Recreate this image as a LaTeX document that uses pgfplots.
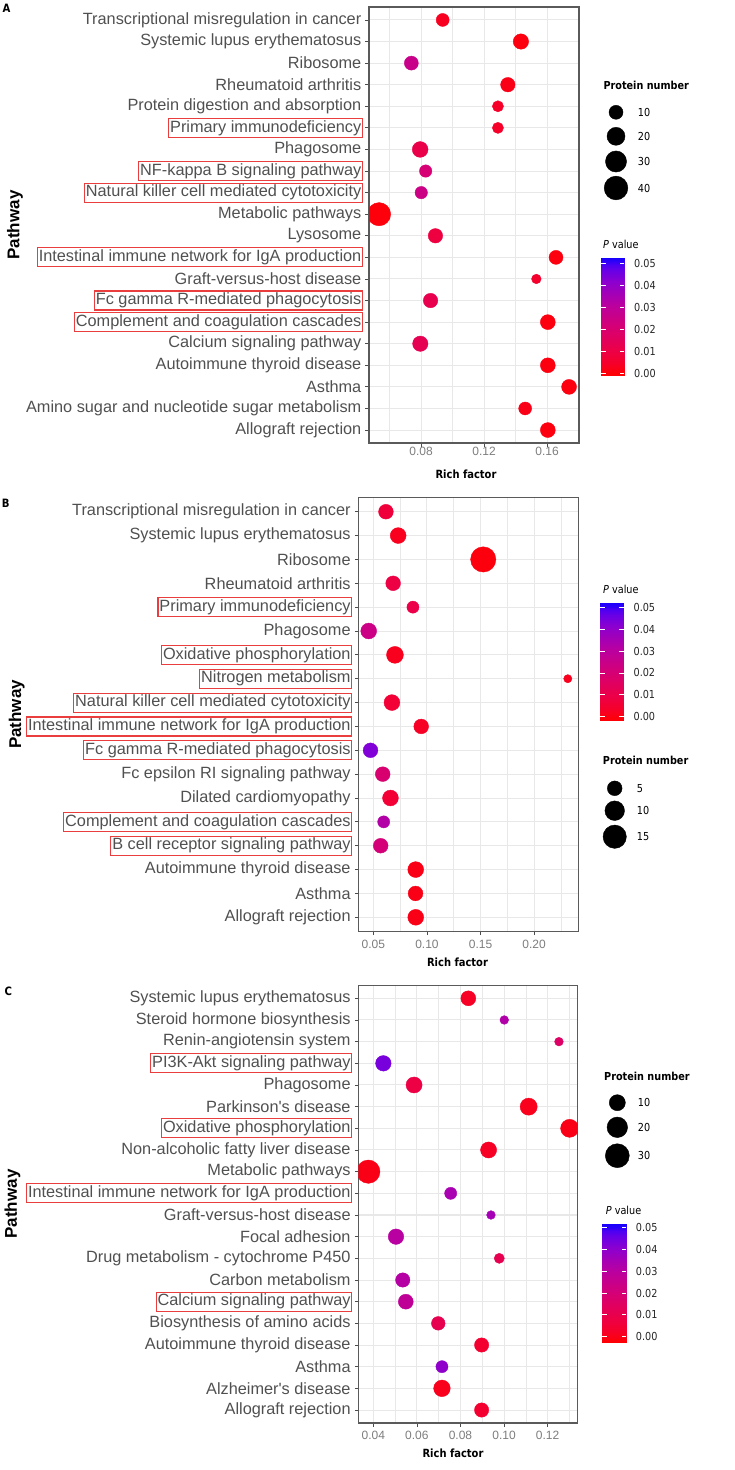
\documentclass[border=0pt]{standalone}
\usepackage{fontspec}
\setmainfont{Liberation Sans}
\newfontfamily\labf{Liberation Sans}
\newfontfamily\tah{DejaVu Sans}[FakeStretch=0.88]
\usepackage{pgfplots}
\usepackage{pgfplotstable}
\pgfplotsset{compat=1.18}
\definecolor{boxred}{RGB}{234,62,62}
\definecolor{gridc}{RGB}{232,232,232}
\definecolor{framec}{RGB}{90,90,90}
\definecolor{labc}{RGB}{80,80,80}
\definecolor{tickc}{RGB}{125,125,125}
\tikzset{hlbox/.style={draw=boxred, line width=1.15pt, inner xsep=0pt, inner ysep=1pt, outer sep=0pt, anchor=east, xshift=-6.4pt, font=\labf\fontsize{16.3}{17}\selectfont}}
\newcommand\hlat[3]{\node[hlbox] at (axis cs:#1,#2) {\kern2.2pt\strut\phantom{#3}\kern0.6pt};}
\pgfplotsset{colormap={blk}{color=(black) color=(black)}}
\pgfplotsset{colormap={ggrb}{rgb255(0)=(255,0,0) rgb255(2)=(246,0,42) rgb255(4)=(237,0,68) rgb255(8)=(215,0,114) rgb255(12)=(186,0,159) rgb255(16)=(141,0,206) rgb255(18)=(104,0,230) rgb255(19)=(75,0,243) rgb255(20)=(0,0,255)}}
\pgfplotsset{
 nfmt/.style={/pgf/number format/fixed, /pgf/number format/fixed zerofill, /pgf/number format/precision=2, /pgf/number format/assume math mode=true},
 dotpanel/.style={
  scale only axis, anchor=north west, clip marker paths=true,
  axis line style={draw=framec, line width=1.2pt},
  grid=both,
  major grid style={draw=gridc, line width=1pt},
  minor grid style={draw=gridc, line width=0.6pt},
  tick pos=left, tick align=outside,
  major tick length=3.5pt, minor tick length=0pt,
  tick style={draw=black!70, line width=0.8pt},
  ymin=0.4,
  yticklabel style={font=\labf\fontsize{16.3}{17}\selectfont, text=labc, inner sep=0pt, xshift=-4pt},
  xticklabel style={font=\labf\fontsize{12}{14}\selectfont, text=tickc, inner sep=0pt, /pgfplots/nfmt},
  scaled x ticks=false,
  colormap name=ggrb,
 },
 cbar/.style={scale only axis, anchor=south west, xmin=0, xmax=1, axis on top,
  axis line style={draw=none}, xtick=\empty, ytick={0,0.01,0.02,0.03,0.04,0.05},
  ytick pos=both, yticklabel pos=right, tick align=inside, major tick length=4.5pt,
  ytick style={draw=white, line width=0.8pt},
  yticklabel style={font=\tah\fontsize{11}{13}\selectfont, text=black!85, anchor=west, inner sep=0pt, xshift=9.7pt, /pgfplots/nfmt},
  scaled y ticks=false, colormap name=ggrb},
 bubbles/.style n args={2}{scatter, only marks, mark=*,
  scatter/use mapped color={draw=mapped color, fill=mapped color},
  visualization depends on={(#1+#2*sqrt(\thisrow{n}))/2 \as \prad},
  scatter/@pre marker code/.append style={/tikz/mark size=\prad}},
}
% Panel A: y (row, 20 = top), x (rich factor), n (protein number), p (P value)
\pgfplotstableread{
y x n p
20 0.0937 8 0.003
19 0.1434 13 0.001
18 0.0738 10 0.026
17 0.1351 11 0.002
16 0.1288 5 0.0045
15 0.1288 5 0.0045
14 0.0794 14 0.011
13 0.0829 7 0.021
12 0.0801 7 0.025
11 0.0533 38 0.0005
10 0.0891 11 0.009
9 0.1657 10 0.001
8 0.1532 3 0.005
7 0.0860 11 0.012
6 0.1605 12 0.001
5 0.0795 13 0.013
4 0.1605 12 0.001
3 0.1740 12 0.001
2 0.1461 8 0.002
1 0.1605 12 0.001
}\tabA
\pgfplotstableread{
y x n p
18 0.0617 5 0.007
17 0.0731 6 0.002
16 0.1525 18 0.000
15 0.0684 5 0.009
14 0.0869 3 0.010
13 0.0456 6 0.024
12 0.0701 7 0.002
11 0.2314 1 0.002
10 0.0673 6 0.006
9 0.0946 5 0.003
8 0.0473 5 0.043
7 0.0587 5 0.019
6 0.0659 6 0.006
5 0.0596 3 0.032
4 0.0568 5 0.021
3 0.0895 6 0.001
2 0.0893 5 0.001
1 0.0895 6 0.001
}\tabB
\pgfplotstableread{
y x n p
20 0.0836 8 0.002
19 0.1001 1 0.032
18 0.1252 1 0.016
17 0.0446 9 0.044
16 0.0587 10 0.008
15 0.1113 12 0.001
14 0.1301 14 0.000
13 0.0929 10 0.002
12 0.0377 28 0.000
11 0.0755 4 0.034
10 0.0940 1 0.035
9 0.0504 9 0.030
8 0.0978 2 0.011
7 0.0535 7 0.031
6 0.0549 8 0.028
5 0.0698 6 0.011
4 0.0897 7 0.004
3 0.0715 4 0.040
2 0.0715 11 0.001
1 0.0897 7 0.004
}\tabC
% size legends, positions in page px
\pgfplotstableread{
x y n
616 -112.3 10
616 -136.3 20
616 -161.5 30
616 -188 40
}\legA
\pgfplotstableread{
x y n
614.7 -788.3 5
614.7 -810.7 10
614.7 -836.7 15
}\legB
\pgfplotstableread{
x y n
617.3 -1102.7 10
617.3 -1127.3 20
617.3 -1155.7 30
}\legC
% colour-bar strips (triangles)
\pgfplotstableread{
x y
0 -0.003
1 -0.003
1 0
0 -0.003
1 0
0 0
0 0
1 0
1 0.005
0 0
1 0.005
0 0.005
0 0.005
1 0.005
1 0.01
0 0.005
1 0.01
0 0.01
0 0.01
1 0.01
1 0.015
0 0.01
1 0.015
0 0.015
0 0.015
1 0.015
1 0.02
0 0.015
1 0.02
0 0.02
0 0.02
1 0.02
1 0.025
0 0.02
1 0.025
0 0.025
0 0.025
1 0.025
1 0.03
0 0.025
1 0.03
0 0.03
0 0.03
1 0.03
1 0.035
0 0.03
1 0.035
0 0.035
0 0.035
1 0.035
1 0.04
0 0.035
1 0.04
0 0.04
0 0.04
1 0.04
1 0.045
0 0.04
1 0.045
0 0.045
0 0.045
1 0.045
1 0.05
0 0.045
1 0.05
0 0.05
0 0.05
1 0.05
1 0.054
0 0.05
1 0.054
0 0.054
}\cbtab
\begin{document}
\begin{tikzpicture}
\useasboundingbox (0,0) rectangle (734pt,-1470pt);
% ---------------- Panel A
\begin{axis}[dotpanel, at={(369pt,-7pt)}, width=210pt, height=436pt,
 xmin=0.0469, xmax=0.1803, ymax=20.6,
 xtick={0.08,0.12,0.16}, minor xtick={0.06,0.10,0.14,0.18},
 ytick={1,...,20},
 yticklabels={Allograft rejection, Amino sugar and nucleotide sugar metabolism, Asthma, Autoimmune thyroid disease, Calcium signaling pathway, Complement and coagulation cascades, Fc gamma R-mediated phagocytosis, Graft-versus-host disease, Intestinal immune network for IgA production, Lysosome, Metabolic pathways, Natural killer cell mediated cytotoxicity, NF-kappa B signaling pathway, Phagosome, Primary immunodeficiency, Protein digestion and absorption, Rheumatoid arthritis, Ribosome, Systemic lupus erythematosus, Transcriptional misregulation in cancer},
 point meta min=-0.0009, point meta max=0.0525,
 after end axis/.code={
  \hlat{0.0469}{6}{Complement and coagulation cascades}
  \hlat{0.0469}{7}{Fc gamma R-mediated phagocytosis}
  \hlat{0.0469}{9}{Intestinal immune network for IgA production}
  \hlat{0.0469}{12}{Natural killer cell mediated cytotoxicity}
  \hlat{0.0469}{13}{NF-kappa B signaling pathway}
  \hlat{0.0469}{15}{Primary immunodeficiency}}]
\addplot[bubbles={4.3}{3.07}, point meta=explicit] table[x=x,y=y,meta=p] {\tabA};
\end{axis}
\begin{axis}[cbar, at={(601pt,-375pt)}, width=23.3pt, height=116.7pt, ymin=-0.0009, ymax=0.0525, point meta min=-0.0009, point meta max=0.0525]
\addplot[patch, shader=interp, point meta=y] table {\cbtab};
\end{axis}
% ---------------- Panel B
\begin{axis}[dotpanel, at={(358.3pt,-497.4pt)}, width=220pt, height=434.2pt,
 xmin=0.0359, xmax=0.2412, ymax=18.6,
 xtick={0.05,0.10,0.15,0.20}, minor xtick={0.075,0.125,0.175,0.225},
 ytick={1,...,18},
 xticklabel style={yshift=-4.5pt},
 yticklabels={Allograft rejection, Asthma, Autoimmune thyroid disease, B cell receptor signaling pathway, Complement and coagulation cascades, Dilated cardiomyopathy, Fc epsilon RI signaling pathway, Fc gamma R-mediated phagocytosis, Intestinal immune network for IgA production, Natural killer cell mediated cytotoxicity, Nitrogen metabolism, Oxidative phosphorylation, Phagosome, Primary immunodeficiency, Rheumatoid arthritis, Ribosome, Systemic lupus erythematosus, Transcriptional misregulation in cancer},
 point meta min=-0.0018, point meta max=0.0518,
 after end axis/.code={
  \hlat{0.0359}{4}{B cell receptor signaling pathway}
  \hlat{0.0359}{5}{Complement and coagulation cascades}
  \hlat{0.0359}{8}{Fc gamma R-mediated phagocytosis}
  \hlat{0.0359}{9}{Intestinal immune network for IgA production}
  \hlat{0.0359}{10}{Natural killer cell mediated cytotoxicity}
  \hlat{0.0359}{11}{Nitrogen metabolism}
  \hlat{0.0359}{12}{Oxidative phosphorylation}
  \hlat{0.0359}{14}{Primary immunodeficiency}}]
\addplot[bubbles={3}{5.25}, point meta=explicit] table[x=x,y=y,meta=p] {\tabB};
\end{axis}
\begin{axis}[cbar, at={(600pt,-720.7pt)}, width=23.7pt, height=117.4pt, ymin=-0.0018, ymax=0.0518, point meta min=-0.0018, point meta max=0.0518]
\addplot[patch, shader=interp, point meta=y] table {\cbtab};
\end{axis}
% ---------------- Panel C
\begin{axis}[dotpanel, at={(358.3pt,-985.3pt)}, width=219.4pt, height=437.7pt,
 xmin=0.0331, xmax=0.1338, ymax=20.6,
 xtick={0.04,0.06,0.08,0.10,0.12}, minor xtick={0.05,0.07,0.09,0.11,0.13},
 ytick={1,...,20},
 xticklabel style={yshift=-4.5pt},
 yticklabels={Allograft rejection, Alzheimer's disease, Asthma, Autoimmune thyroid disease, Biosynthesis of amino acids, Calcium signaling pathway, Carbon metabolism, Drug metabolism - cytochrome P450, Focal adhesion, Graft-versus-host disease, Intestinal immune network for IgA production, Metabolic pathways, Non-alcoholic fatty liver disease, Oxidative phosphorylation, Parkinson's disease, Phagosome, PI3K-Akt signaling pathway, Renin-angiotensin system, Steroid hormone biosynthesis, Systemic lupus erythematosus},
 point meta min=-0.0028, point meta max=0.0516,
 after end axis/.code={
  \hlat{0.0331}{6}{Calcium signaling pathway}
  \hlat{0.0331}{11}{Intestinal immune network for IgA production}
  \hlat{0.0331}{14}{Oxidative phosphorylation}
  \hlat{0.0331}{17}{PI3K-Akt signaling pathway}}]
\addplot[bubbles={5.3}{3.41}, point meta=explicit] table[x=x,y=y,meta=p] {\tabC};
\end{axis}
\begin{axis}[cbar, at={(602.3pt,-1342.7pt)}, width=23.7pt, height=118.4pt, ymin=-0.0028, ymax=0.0516, point meta min=-0.0028, point meta max=0.0516]
\addplot[patch, shader=interp, point meta=y] table {\cbtab};
\end{axis}
% ---------------- size legends (page coordinates in px)
\begin{axis}[at={(0pt,0pt)}, anchor=north west, scale only axis, width=734pt, height=1470pt,
 xmin=0, xmax=734, ymin=-1470, ymax=0, hide axis, clip=false, colormap name=blk]
\addplot[bubbles={4.3}{3.07}, point meta=explicit] table[x=x,y=y,meta=n] {\legA};
\addplot[bubbles={3}{5.25}, point meta=explicit] table[x=x,y=y,meta=n] {\legB};
\addplot[bubbles={5.3}{3.41}, point meta=explicit] table[x=x,y=y,meta=n] {\legC};
\end{axis}
% ---------------- texts
\tikzset{lt/.style={anchor=west, inner sep=0pt, font=\tah\fontsize{11}{13}\selectfont},
 lb/.style={anchor=west, inner sep=0pt, font=\tah\bfseries\fontsize{11}{13}\selectfont},
 rf/.style={inner sep=0pt, font=\tah\bfseries\fontsize{11.3}{13}\selectfont},
 pw/.style={rotate=90, inner sep=0pt, font=\labf\bfseries\fontsize{17}{20}\selectfont},
 pl/.style={inner sep=0pt, font=\tah\bfseries\fontsize{11.5}{13}\selectfont}}
\node[pl] at (6.5pt,-8pt) {A};
\node[pl] at (5.8pt,-503.8pt) {B};
\node[pl] at (8.3pt,-991pt) {C};
\node[pw] at (15pt,-225pt) {Pathway};
\node[pw] at (16.7pt,-714.5pt) {Pathway};
\node[pw] at (12.5pt,-1204pt) {Pathway};
\node[rf] at (466pt,-474pt) {Rich factor};
\node[rf] at (457.5pt,-962.3pt) {Rich factor};
\node[rf] at (453pt,-1453.3pt) {Rich factor};
% legend A
\node[lb] at (603.3pt,-85pt) {Protein number};
\node[lt] at (637.7pt,-112.3pt) {10};
\node[lt] at (637.7pt,-136.3pt) {20};
\node[lt] at (637.7pt,-161.5pt) {30};
\node[lt] at (637.7pt,-188pt) {40};
\node[lt] at (603pt,-244pt) {{\itshape P} value};
% legend B
\node[lt] at (603pt,-589.3pt) {{\itshape P} value};
\node[lb] at (602.7pt,-760.7pt) {Protein number};
\node[lt] at (636.7pt,-788.3pt) {5};
\node[lt] at (636.7pt,-810.7pt) {10};
\node[lt] at (636.7pt,-836.7pt) {15};
% legend C
\node[lb] at (604pt,-1076.7pt) {Protein number};
\node[lt] at (637.7pt,-1102.7pt) {10};
\node[lt] at (637.7pt,-1127.3pt) {20};
\node[lt] at (637.7pt,-1155.7pt) {30};
\node[lt] at (605.7pt,-1210pt) {{\itshape P} value};
\end{tikzpicture}
\end{document}
